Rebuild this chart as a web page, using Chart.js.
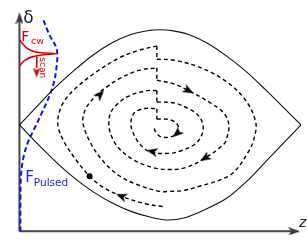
<!DOCTYPE html>
<html><head><meta charset="utf-8">
<script src="https://cdn.jsdelivr.net/npm/chart.js@4.4.0/dist/chart.umd.min.js"></script>
<style>html,body{margin:0;padding:0;background:#fff;overflow:hidden}#wrap{width:307px;height:244px;position:relative}</style>
</head><body><div id="wrap"><canvas id="c" width="307" height="244"></canvas></div>
<script>
// ---- data (z along horizontal axis, delta along vertical axis) ----
const sepUpZ = [0,16,36,56,76,96,116,136,146,156,176,196,216,236,256,276,293];
const sepUpD = [112,129,150,168.5,185,198,207,211.4,212,211.5,207,197.5,184,168,149,129,112];
const sepLoZ = [0,16,36,56,76,96,116,136,153,171,191,216,239,256,276,293];
const sepLoD = [112,95,75,57,42,30,21,15,12,14,22,35,55,73,94,112];

const pulsedZ = [25,31,38,39.5,38.5,36,31,23,16,9,4,1.5,1,1];
const pulsedD = [222,207,194,185,172,157,142,124,109,94,77,57,32,0];

const cwZ = [0.5,3,8,14,23,39,23,13,6,2,0.5];
const cwD = [201,197.5,192.5,189.5,187.8,187,185.5,183.5,180,176.5,174];

const ring1Z = [149,131,106,86,73,59,46,40,42,48,59,79,103,123,143];
const ring1D = [26,29,37,47,58,75,95,112,127,139,151,167,182,190,195];
const ring2Z = [143,161,189,216,236,246,244,239,223,206,189,171,156,146,123,103,86,73,66,69,79,91,103,123,143];
const ring2D = [181,180,172,157,137,114,97,85,62,53,48,43,42,42,49,59,75,95,115,129,142,152,160,169,172];
const ring3Z = [143,161,176,199,213,218,216,213,193,173,156,139,119,103,95,93,95,101,113,133,143];
const ring3D = [159,155,148,135,124,112,99,92,77,67,65,67,75,88,102,115,125,133,142,148,148];
const ring4Z = [143,161,176,186,191,190,183,169,156,138,129,121,116,119,129,143];
const ring4D = [136,135,129,122,112,102,92,85,82,83,88,98,112,124,129,129];
const ring5Z = [143,153,162,166,164,156,146,141,140];
const ring5D = [118,118,115,108,103,99,100,106,109];

const arrowZ = [106,84,176,193,138,164];
const arrowD = [37,144,148,77,84,103];
const dotZ = [73];
const dotD = [58];

const axisEndZ = 288, axisEndD = 226;

// ---- helpers ----
const pts = (zs, ds) => zs.map((z, i) => ({x: z, y: ds[i]}));
function makeArrow(w, h, color) {
  const c = document.createElement('canvas');
  c.width = w; c.height = h;
  const g = c.getContext('2d');
  g.fillStyle = color;
  g.beginPath();
  g.moveTo(w / 2, 0); g.lineTo(w, h); g.lineTo(w / 2, h * 0.72); g.lineTo(0, h);
  g.closePath(); g.fill();
  return c;
}
const rings = [[ring1Z, ring1D], [ring2Z, ring2D], [ring3Z, ring3D], [ring4Z, ring4D], [ring5Z, ring5D]];
const path = [];
rings.forEach(r => r[0].forEach((z, i) => path.push([z, r[1][i]])));
function rotFor(z, d) {
  let best = 0, bd = 1e9;
  path.forEach((p, i) => { const dd = (p[0]-z)**2 + (p[1]-d)**2; if (dd < bd) { bd = dd; best = i; } });
  const a = path[Math.max(0, best - 1)], b = path[Math.min(path.length - 1, best + 1)];
  return Math.atan2(b[0] - a[0], b[1] - a[1]) * 180 / Math.PI;
}
const arrowRot = arrowZ.map((z, i) => rotFor(z, arrowD[i]));

const spiralStyle = {borderColor: '#000', borderWidth: 1.4, borderDash: [4, 3], showLine: true, pointRadius: 0, tension: 0.35, fill: false};
const datasets = [];
rings.forEach((r, k) => {
  datasets.push(Object.assign({data: pts(r[0], r[1])}, spiralStyle));
  if (k > 0) {
    const prev = rings[k - 1];
    datasets.push(Object.assign({}, spiralStyle, {tension: 0, data: [
      {x: prev[0][prev[0].length - 1], y: prev[1][prev[1].length - 1]},
      {x: r[0][0], y: r[1][0]}]}));
  }
});
datasets.push({data: pts(arrowZ, arrowD), showLine: false, pointStyle: makeArrow(9, 11, '#000'), pointRadius: 5, pointRotation: arrowRot});
datasets.push({data: pts(dotZ, dotD), showLine: false, pointStyle: 'circle', pointRadius: 3, backgroundColor: '#000', borderColor: '#000', borderWidth: 0});
datasets.push({data: pts(sepUpZ, sepUpD), showLine: true, borderColor: '#111', borderWidth: 1.1, pointRadius: 0, tension: 0.35});
datasets.push({data: pts(sepLoZ, sepLoD), showLine: true, borderColor: '#111', borderWidth: 1.1, pointRadius: 0, tension: 0.35});
datasets.push({data: pts(pulsedZ, pulsedD), showLine: true, borderColor: '#0a14f0', borderWidth: 2, borderDash: [5, 3], pointRadius: 0, tension: 0.35});
datasets.push({data: pts(cwZ, cwD), showLine: true, borderColor: '#e00000', borderWidth: 1.6, pointRadius: 0, tension: 0.25});
datasets.push({data: [{x: 18, y: 184}, {x: 18, y: 172}], showLine: true, borderColor: '#e00000', borderWidth: 1.6, pointRadius: 0});
datasets.push({data: [{x: 18, y: 167}], showLine: false, pointStyle: makeArrow(8, 10, '#e00000'), pointRadius: 5, pointRotation: 180});
datasets.push({data: [{x: 0, y: 0}, {x: 0, y: axisEndD}], showLine: true, borderColor: '#444', borderWidth: 2, pointRadius: 0});
datasets.push({data: [{x: 0, y: 0}, {x: axisEndZ, y: 0}], showLine: true, borderColor: '#444', borderWidth: 2, pointRadius: 0});
datasets.push({data: [{x: 0, y: 224}, {x: 286, y: 0}], showLine: false, pointStyle: makeArrow(8, 12, '#222'), pointRadius: 5, pointRotation: [0, 90]});

const labels = [
  {t: 'δ', z: 4, d: 219, font: '17px "DejaVu Sans"', color: '#222'},
  {t: 'F', z: 2, d: 200, font: '14px "DejaVu Sans"', color: '#e00000'},
  {t: 'cw', z: 12, d: 197.5, font: '9.5px "DejaVu Sans"', color: '#e00000'},
  {t: 'scan', z: 21, d: 183, font: '9px "DejaVu Sans"', color: '#e00000', rot: 90},
  {t: 'F', z: 6, d: 52, font: '15px "DejaVu Sans"', color: '#2020ff'},
  {t: 'Pulsed', z: 15, d: 48, font: '10.5px "DejaVu Sans"', color: '#2020ff'},
  {t: 'z', z: 291, d: 5, font: 'italic 14px "DejaVu Sans"', color: '#222'}
];
const textPlugin = {
  id: 'texts',
  afterDatasetsDraw(chart) {
    const g = chart.ctx, sx = chart.scales.x, sy = chart.scales.y;
    labels.forEach(l => {
      g.save();
      g.font = l.font; g.fillStyle = l.color; g.textBaseline = 'alphabetic'; g.textAlign = 'left';
      g.translate(sx.getPixelForValue(l.z), sy.getPixelForValue(l.d));
      if (l.rot) g.rotate(l.rot * Math.PI / 180);
      g.fillText(l.t, 0, 0);
      g.restore();
    });
  }
};

new Chart(document.getElementById('c'), {
  type: 'scatter',
  data: {datasets},
  options: {
    responsive: false, animation: false, devicePixelRatio: 1, events: [],
    layout: {padding: 0},
    plugins: {legend: {display: false}, tooltip: {enabled: false}},
    scales: {
      x: {type: 'linear', min: -14, max: 293, display: false},
      y: {type: 'linear', min: -7, max: 237, display: false}
    }
  },
  plugins: [textPlugin]
});
</script></body></html>
